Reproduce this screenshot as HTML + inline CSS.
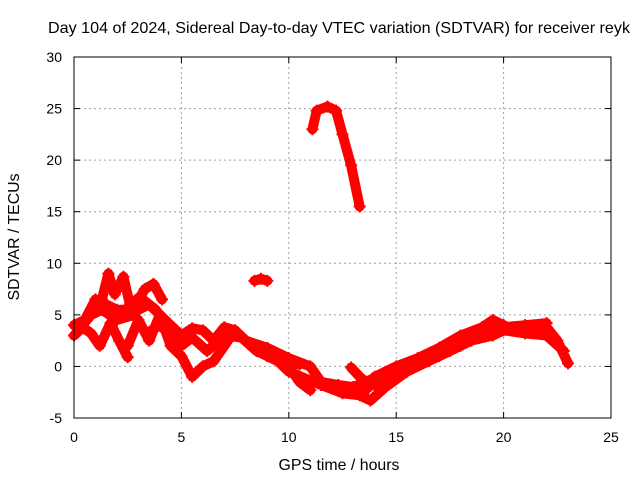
<!DOCTYPE html>
<html><head><meta charset="utf-8"><style>
html,body{margin:0;padding:0;background:#fff;}
svg text{font-family:"Liberation Sans",Arial,sans-serif;fill:#000;}
</style></head><body>
<svg id="chart" width="640" height="480" viewBox="0 0 640 480" xmlns="http://www.w3.org/2000/svg">
<rect width="640" height="480" fill="#fff"/>
<text x="339" y="33" font-size="16" text-anchor="middle" textLength="582" lengthAdjust="spacingAndGlyphs">Day 104 of 2024, Sidereal Day-to-day VTEC variation (SDTVAR) for receiver reyk</text>
<text x="339" y="470" font-size="16" text-anchor="middle" textLength="121" lengthAdjust="spacingAndGlyphs">GPS time / hours</text>
<text x="0" y="0" font-size="16" text-anchor="middle" textLength="127" lengthAdjust="spacingAndGlyphs" transform="translate(19,237) rotate(-90)">SDTVAR / TECUs</text>
<g id="grid"></g><g id="marks"></g><g id="axes"></g>
</svg>
<script>
const xTicks=[0,5,10,15,20,25];
const yTicks=[-5,0,5,10,15,20,25,30];
// tracks: hours and TECU values
const trackAX=[0,0.5,1,1.5,2,3,3.5,4,4.5,5,5.5,6,6.5,7,7.5,8,9,10,11,11.5,12,13,13.5,14,15,16,17,18,19,19.5,20,20.5,21,21.5,22,22.5,23];
const trackAY=[4,4.5,6.5,6,5.5,5.5,6,5,4,3,3.7,3.5,2.5,3.8,3.5,2.5,1.8,0.8,0,-1.5,-2,-2.2,-2.5,-1,0,0.8,1.8,3,3.8,4.5,4,3.5,3.8,3.5,3.8,2.5,0.3];
const trackBX=[0,0.4,0.8,1.2,1.7,2.1,2.5];
const trackBY=[3,3.8,3.2,2,4.2,2.5,0.9];
const trackCX=[2.5,3,3.5,4,4.5,5,5.5,6,6.5,7,7.5];
const trackCY=[2,4.5,2.5,5,2,1,-1,0,0.5,2,3.5];
const trackDX=[8,9,10,10.5,11];
const trackDY=[2.5,1,0,-1.5,-2.3];
const trackEX=[9,10,11.5,12.5,13.3,13.8,14.5,15.5,16.5,17.5,18.5,19.5,20,21,22,22.8];
const trackEY=[1.5,-0.5,-1.8,-2.6,-2.8,-3.3,-2,-0.5,0.5,1.5,2.5,3,3.5,3.2,3,1.5];
const trackFX=[12.9,13.3,13.8];
const trackFY=[-0.1,-1,-1.9];
const trackGX=[11.1,11.3,11.8,12.2,12.5,12.9,13.3];
const trackGY=[23,24.8,25.2,24.8,22.5,19.5,15.5];
const trackHX=[1.3,1.6,1.9,2.3,2.6,3.1,3.3,3.7,4.1];
const trackHY=[6.5,9,7,8.7,6,6.8,7.5,8,6.5];
const trackIX=[8.4,8.7,9];
const trackIY=[8.3,8.5,8.3];
const trackJX=[0.2,0.8,1.3,2,2.8,3.2,3.8,4.3,4.8];
const trackJY=[3.5,5,5.5,4.5,5,6.5,5.5,4,3.2];
const trackKX=[3.6,4,4.5,5,5.5,6.2,7,7.8,8.5,9.5,10.5];
const trackKY=[3.5,4,3,2,2.8,1.5,3,2.8,1.5,0.5,0.2];
const trackLX=[14,15,16,17,18,19,20,21,22];
const trackLY=[-1.8,-0.8,0.3,1,2,3.3,3.8,4,4.2];
const trackMX=[11.5,12.3,13,13.6,14.3];
const trackMY=[-1.5,-1.8,-2,-1.5,-0.8];
const tracks=[[trackAX,trackAY],[trackBX,trackBY],[trackCX,trackCY],[trackDX,trackDY],[trackEX,trackEY],[trackFX,trackFY],[trackGX,trackGY],[trackHX,trackHY],[trackIX,trackIY],[trackJX,trackJY],[trackKX,trackKY],[trackLX,trackLY],[trackMX,trackMY]];
const L=74,R=611,T=57,B=418;
const xs=v=>L+(v-0)/25*(R-L);
const ys=v=>B-(v+5)/35*(B-T);
const NS="http://www.w3.org/2000/svg";
function mk(tag,attrs,parent){const e=document.createElementNS(NS,tag);for(const k in attrs)e.setAttribute(k,attrs[k]);parent.appendChild(e);return e;}
const grid=document.getElementById('grid'),marks=document.getElementById('marks'),axes=document.getElementById('axes');
xTicks.forEach(t=>{const x=xs(t);
 if(t>0&&t<25){const g=mk('line',{x1:x,x2:x,y1:T,y2:B,stroke:'#a0a0a0','stroke-dasharray':'2,3'},grid);
 
 }
 const a=mk('line',{x1:x,x2:x,y1:B,y2:B-6,stroke:'#000'},axes);
 
 
 mk('line',{x1:x,x2:x,y1:T,y2:T+6,stroke:'#000'},axes);
 const tx=mk('text',{x:x,y:B+24,'font-size':14,'text-anchor':'middle'},axes);tx.textContent=t;
 
 
});
yTicks.forEach(t=>{const y=ys(t);
 if(t>-5&&t<30){const g=mk('line',{x1:L,x2:R,y1:y,y2:y,stroke:'#a0a0a0','stroke-dasharray':'2,3'},grid);
 
 }
 const a=mk('line',{x1:L,x2:L+6,y1:y,y2:y,stroke:'#000'},axes);
 
 
 mk('line',{x1:R,x2:R-6,y1:y,y2:y,stroke:'#000'},axes);
 const tx=mk('text',{x:L-12,y:y+5,'font-size':14,'text-anchor':'end'},axes);tx.textContent=t;
 
 
});
const frame=mk('rect',{x:L,y:T,width:R-L,height:B-T,fill:'none',stroke:'#000'},axes);


tracks.forEach(([tx,ty])=>{
 const pts=tx.map((v,i)=>xs(v)+','+ys(ty[i])).join(' ');
 const pl=mk('polyline',{points:pts,fill:'none',stroke:'#ff0000','stroke-width':10,'stroke-linejoin':'round','stroke-linecap':'round'},marks);
 
 
 tx.forEach((v,i)=>{const x=xs(v),y=ys(ty[i]);
  const p=mk('path',{d:`M${x-6},${y}H${x+6}M${x},${y-6}V${y+6}`,stroke:'#ff0000','stroke-width':2},marks);
  
  
 });
});
</script>
</body></html>
